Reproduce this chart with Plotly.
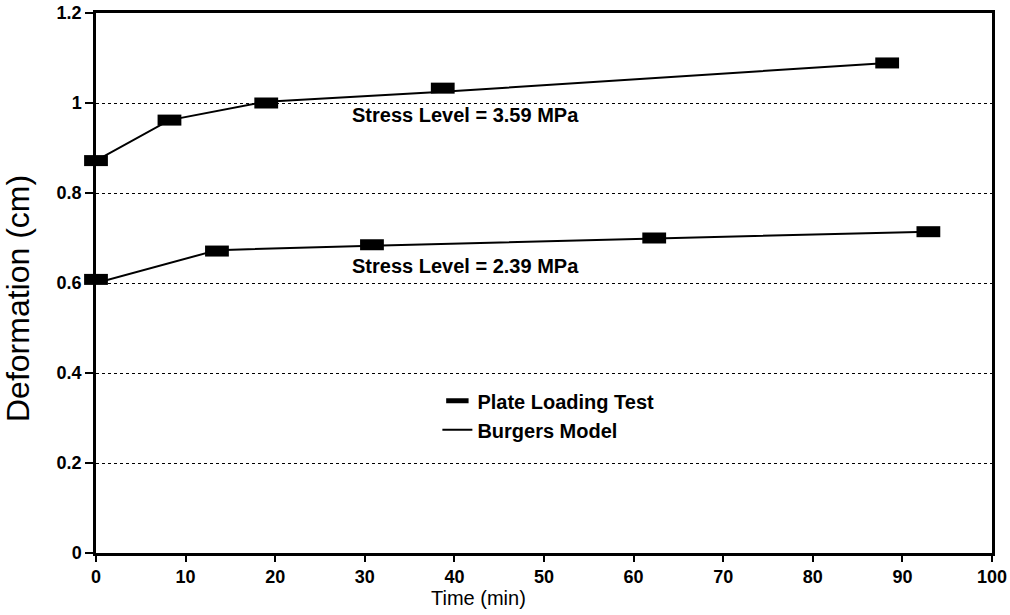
import plotly.graph_objects as go

# Plate loading test data (time in min, deformation in cm)
t_359 = [0, 8.2, 19.0, 38.7, 88.3]
d_359 = [0.872, 0.962, 1.0, 1.033, 1.089]
t_239 = [0, 13.5, 30.8, 62.3, 92.9]
d_239 = [0.608, 0.671, 0.685, 0.70, 0.714]

# Burgers model curves
m_t_359 = [0, 8.2, 19.0, 38.7, 88.3]
m_d_359 = [0.872, 0.962, 1.003, 1.025, 1.089]
m_t_239 = [0, 13.5, 30.8, 62.3, 92.9]
m_d_239 = [0.600, 0.673, 0.683, 0.698, 0.714]

x_ticks = [0, 10, 20, 30, 40, 50, 60, 70, 80, 90, 100]
y_ticks = [0, 0.2, 0.4, 0.6, 0.8, 1.0, 1.2]
y_tick_text = ["0", "0.2", "0.4", "0.6", "0.8", "1", "1.2"]

font_family = "Arial, Liberation Sans, sans-serif"
marker_style = dict(symbol="line-ew", size=17, color="black",
                    line=dict(color="black", width=11))

fig = go.Figure()
fig.add_trace(go.Scatter(x=m_t_359, y=m_d_359, mode="lines",
                         line=dict(color="black", width=2),
                         name="Burgers Model", showlegend=False))
fig.add_trace(go.Scatter(x=m_t_239, y=m_d_239, mode="lines",
                         line=dict(color="black", width=2),
                         name="Burgers Model", showlegend=False))
fig.add_trace(go.Scatter(x=t_359, y=d_359, mode="markers", marker=marker_style,
                         name="Plate Loading Test", showlegend=True,
                         legendgroup="a", cliponaxis=False))
fig.add_trace(go.Scatter(x=t_239, y=d_239, mode="markers", marker=marker_style,
                         name="Plate Loading Test", showlegend=False,
                         cliponaxis=False))
fig.add_trace(go.Scatter(x=[None], y=[None], mode="lines",
                         line=dict(color="black", width=2),
                         name="Burgers Model", showlegend=True, legendgroup="b"))

ann_font = dict(family=font_family, size=20, color="black", weight="bold")
fig.add_annotation(x=28.4, y=0.973, xref="x", yref="y", text="Stress Level = 3.59 MPa",
                   showarrow=False, xanchor="left", yanchor="middle", font=ann_font)
fig.add_annotation(x=28.4, y=0.637, xref="x", yref="y", text="Stress Level = 2.39 MPa",
                   showarrow=False, xanchor="left", yanchor="middle", font=ann_font)

# axis titles placed as in the original figure
fig.add_annotation(x=(478 - 96) / 896, y=-(598 - 553) / 540, xref="paper", yref="paper",
                   text="Time (min)", showarrow=False, xanchor="center", yanchor="middle",
                   font=dict(family=font_family, size=20, color="black", weight="normal"))
fig.add_annotation(x=-(96 - 18) / 896, y=(553 - 299) / 540, xref="paper", yref="paper",
                   text="Deformation (cm)", showarrow=False, textangle=-90,
                   xanchor="center", yanchor="middle",
                   font=dict(family=font_family, size=32, color="black", weight="normal"))

fig.update_layout(
    width=1010, height=615,
    margin=dict(l=96, r=18, t=13, b=62),
    plot_bgcolor="white", paper_bgcolor="white",
    font=dict(family=font_family, size=18, color="black", weight="bold"),
    legend=dict(x=0.381, y=0.318, xanchor="left", yanchor="top",
                bgcolor="rgba(0,0,0,0)", font=dict(size=20, weight="bold"),
                tracegroupgap=0, itemwidth=30),
    xaxis=dict(range=[0, 100], tickvals=x_ticks, ticktext=[str(v) for v in x_ticks],
               showgrid=False, zeroline=False, showline=True, linecolor="black",
               linewidth=2.5, mirror=True, ticks="outside", ticklen=6, tickwidth=2,
               tickcolor="black", automargin=False),
    yaxis=dict(range=[0, 1.2], tickvals=y_ticks, ticktext=y_tick_text,
               showgrid=True, gridcolor="black", griddash="dot", gridwidth=1,
               zeroline=False, showline=True, linecolor="black",
               linewidth=2.5, mirror=True, ticks="outside", ticklen=8, tickwidth=2,
               tickcolor="black", automargin=False),
)

fig.write_html("out.html")
